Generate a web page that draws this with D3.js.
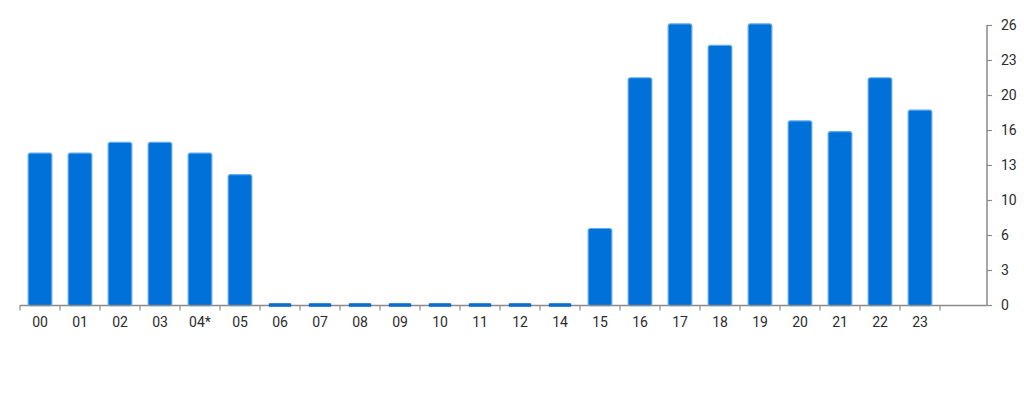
<!DOCTYPE html>
<html>
<head>
<meta charset="utf-8">
<script src="https://cdn.jsdelivr.net/npm/d3@7"></script>
<style>
  html, body { margin: 0; padding: 0; background: #fff; }
  svg { display: block; font-family: Roboto, "Noto Sans", sans-serif; }
</style>
</head>
<body>
<svg id="chart" width="1024" height="400"></svg>
<script>
const categories = ["00","01","02","03","04*","05","06","07","08","09","10","11","12","14","15","16","17","18","19","20","21","22","23"];
const values = [14, 14, 15, 15, 14, 12, 0, 0, 0, 0, 0, 0, 0, 0, 7, 21, 26, 24, 26, 17, 16, 21, 18];
const yMax = 26;
const yTickLabels = ["0","3","6","10","13","16","20","23","26"];

const svg = d3.select("#chart");
const plotLeft = 20, plotRight = 987, plotTop = 25, plotBottom = 305;

const x = d3.scaleBand()
  .domain(categories)
  .range([plotLeft, plotLeft + categories.length * 40])
  .paddingInner(0.44)
  .paddingOuter(0.22);

const y = d3.scaleLinear().domain([0, yMax]).range([plotBottom, plotTop]);

const tickVals = yTickLabels.map((_, i) => i * yMax / (yTickLabels.length - 1));

// bars
svg.append("g").selectAll("rect")
  .data(values)
  .join("rect")
  .attr("x", (d, i) => x(categories[i]))
  .attr("width", x.bandwidth())
  .attr("y", d => d > 0 ? y(d) - 0.5 : plotBottom - 1.6)
  .attr("height", d => d > 0 ? plotBottom - y(d) + 0.5 : 3.2)
  .attr("rx", 1.5)
  .attr("fill", "#0071d8")
  .attr("stroke", d => d > 0 ? "#5fabf2" : "none")
  .attr("stroke-width", 2.4)
  .style("paint-order", "stroke");

// x axis line
svg.append("line")
  .attr("x1", plotLeft).attr("x2", plotRight)
  .attr("y1", plotBottom + 0.5).attr("y2", plotBottom + 0.5)
  .attr("stroke", "#8a8a8a").attr("stroke-width", 1.5);

// redraw zero bars above the axis line
svg.append("g").selectAll("rect")
  .data(values.map((v, i) => ({ v, c: categories[i] })).filter(d => d.v === 0))
  .join("rect")
  .attr("x", d => x(d.c))
  .attr("width", x.bandwidth())
  .attr("y", plotBottom - 1.6)
  .attr("height", 3.2)
  .attr("fill", "#0a6dcc");

// x ticks at band boundaries
const step = x.step();
const boundaries = d3.range(categories.length + 1).map(i => plotLeft + i * step);
svg.append("g").selectAll("line")
  .data(boundaries)
  .join("line")
  .attr("x1", d => d).attr("x2", d => d)
  .attr("y1", plotBottom).attr("y2", plotBottom + 5.5)
  .attr("stroke", "#8a8a8a").attr("stroke-width", 1.2);

// x labels
svg.append("g").selectAll("text")
  .data(categories)
  .join("text")
  .attr("x", d => x(d) + x.bandwidth() / 2)
  .attr("y", 327)
  .attr("text-anchor", "middle")
  .attr("font-size", 14)
  .attr("fill", "#2b2b2b")
  .text(d => d);

// right y axis
const yAxis = d3.axisRight(y)
  .tickValues(tickVals)
  .tickFormat((d, i) => yTickLabels[i])
  .tickSize(5)
  .tickPadding(9);

const ga = svg.append("g")
  .attr("transform", `translate(${plotRight},0)`)
  .call(yAxis);
ga.select(".domain").attr("stroke", "#8a8a8a").attr("stroke-width", 1.5)
  .attr("d", `M0,${plotTop}V${plotBottom}`);
ga.selectAll(".tick line").attr("stroke", "#8a8a8a").attr("stroke-width", 1.2);
ga.selectAll(".tick text")
  .attr("font-size", 14)
  .attr("fill", "#2b2b2b")
  .attr("font-family", "Roboto, 'Noto Sans', sans-serif");
</script>
</body>
</html>
